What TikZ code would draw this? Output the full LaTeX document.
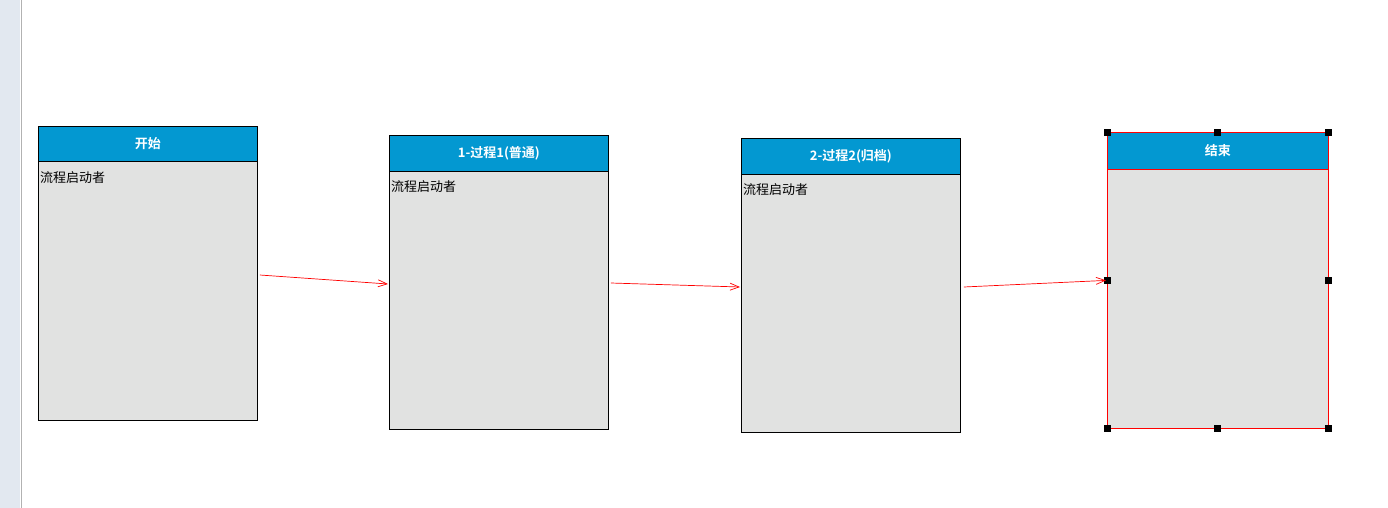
\documentclass[tikz,border=0pt]{standalone}
\usepackage{fontspec}
\setmainfont{Noto Sans CJK SC}
\newfontfamily\hdfont{Noto Sans CJK SC Bold}
\usetikzlibrary{arrows.meta,calc}
\definecolor{hdblue}{HTML}{0398D1}
\definecolor{bodygrey}{HTML}{E1E2E1}
\definecolor{sidebar}{HTML}{E2E8F0}
\tikzset{x=1pt,y=-1pt,
 box/.style={draw=black,fill=bodygrey,line width=0.8pt,anchor=north west,inner sep=0pt},
 hd/.style={draw=black,fill=hdblue,line width=0.8pt,anchor=north west,inner sep=0pt,text=white,font=\hdfont\fontsize{13}{15}\selectfont},
 bodytxt/.style={anchor=north west,inner sep=0pt,font=\fontsize{13}{15}\selectfont},
 conn/.style={draw=red,line width=0.7pt,-{Straight Barb[length=9pt,width=7pt]}},
 handle/.style={fill=black,minimum size=7pt,inner sep=0pt}}
\begin{document}
\begin{tikzpicture}
\useasboundingbox (0,0) rectangle (1388,508);
\fill[white] (0,0) rectangle (1388,508);
\fill[sidebar] (0,0) rectangle (20,508);
\draw[gray!60,line width=1pt] (21,0) -- (21,508);
% box 1
\node[box,minimum width=219pt,minimum height=294pt] (b1) at (38,126) {};
\node[hd,minimum width=219pt,minimum height=35pt] (h1) at (38,126) {开始};
\node[bodytxt] (t1) at (40,171) {流程启动者};
% box 2
\node[box,minimum width=219pt,minimum height=294pt] (b2) at (389,135) {};
\node[hd,minimum width=219pt,minimum height=36pt] (h2) at (389,135) {1-过程1(普通)};
\node[bodytxt] (t2) at (391,180) {流程启动者};
% box 3
\node[box,minimum width=219pt,minimum height=294pt] (b3) at (741,138) {};
\node[hd,minimum width=219pt,minimum height=36pt] (h3) at (741,138) {2-过程2(归档)};
\node[bodytxt] (t3) at (743,183) {流程启动者};
% box 4 (selected)
\node[box,draw=red,minimum width=221pt,minimum height=296pt] (b4) at (1107,132) {};
\node[hd,draw=red,minimum width=221pt,minimum height=37pt] (h4) at (1107,132) {结束};
\foreach \a in {north west,north,north east,west,east,south west,south,south east}
  \node[handle] at (b4.\a) {};
% connectors
\coordinate (s1) at ($(b1.north east)+(2,149)$);
\coordinate (e1) at ($(b2.north west)+(-1,149)$);
\coordinate (s2) at ($(b2.north east)+(2,148)$);
\coordinate (e2) at ($(b3.north west)+(-1,149)$);
\coordinate (s3) at ($(b3.north east)+(3,149)$);
\coordinate (e3) at ($(b4.west)+(-1,0)$);
\draw[conn] (s1) -- (e1);
\draw[conn] (s2) -- (e2);
\draw[conn] (s3) -- (e3);
\end{tikzpicture}
\end{document}
